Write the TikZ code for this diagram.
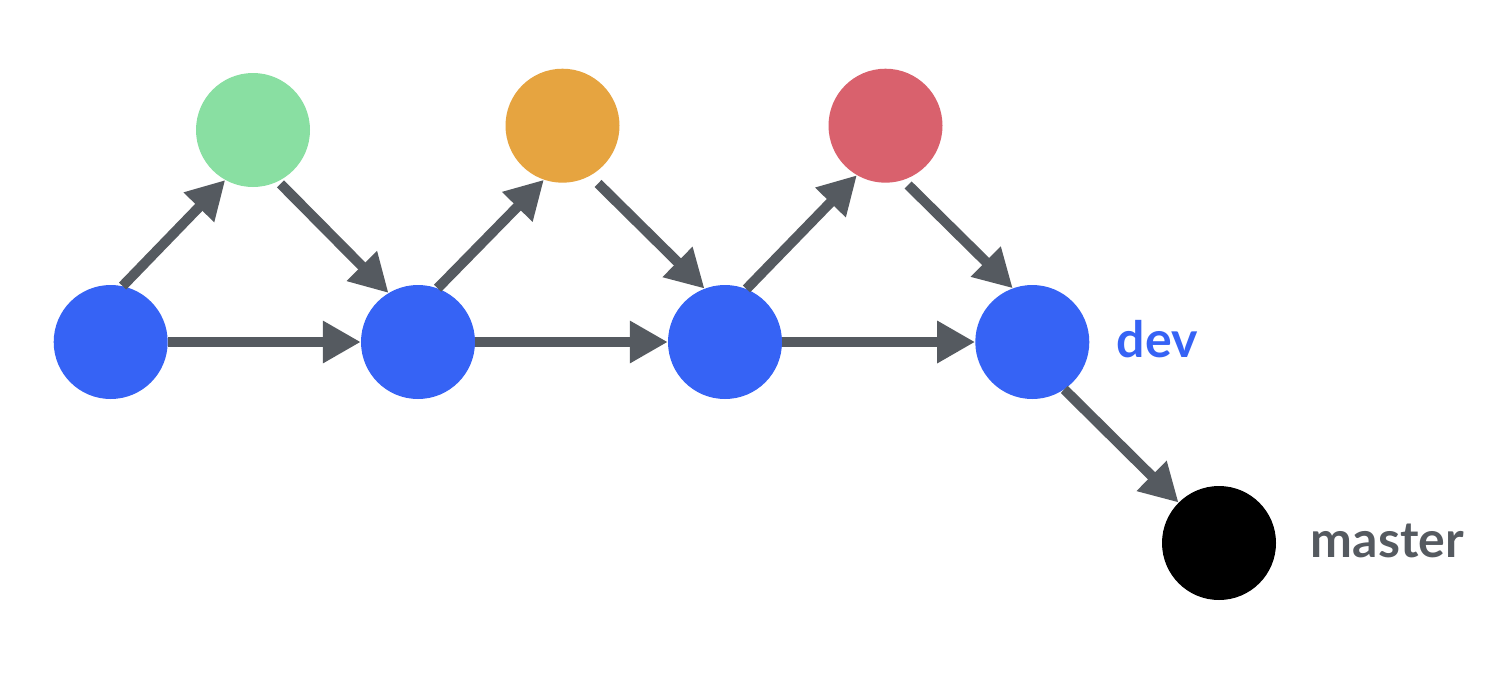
\documentclass[tikz,border=0pt]{standalone}
\usepackage{fontspec}
\setmainfont{Lato}
\usetikzlibrary{arrows.meta}
\definecolor{cblue}{HTML}{3663F5}
\definecolor{cgreen}{HTML}{89DFA2}
\definecolor{corange}{HTML}{E6A440}
\definecolor{cred}{HTML}{D9616D}
\definecolor{cgray}{HTML}{555A60}
\tikzset{
  commit/.style={circle, minimum size=114pt, inner sep=0pt, draw=none},
  arr/.style={draw=cgray, line width=10pt, -{Triangle[length=38pt,width=40pt]}},
  lbl/.style={anchor=base west, inner sep=0pt, font=\fontsize{50}{50}\selectfont\bfseries}
}
\begin{document}
\begin{tikzpicture}[x=1pt,y=-1pt]
\useasboundingbox[fill=white] (0,0) rectangle (1494,678);
\node[commit, fill=cblue] (b1) at (110.7,342) {};
\node[commit, fill=cblue] (b2) at (418,342) {};
\node[commit, fill=cblue] (b3) at (725,342) {};
\node[commit, fill=cblue] (b4) at (1032.3,342) {};
\node[commit, fill=cgreen] (g) at (253,130) {};
\node[commit, fill=corange] (o) at (562.5,125.7) {};
\node[commit, fill=cred] (r) at (885.5,125.7) {};
\node[commit, fill=black] (m) at (1219,543) {};
\node[lbl, text=cblue] (dev) at (1116.7,357.3) {dev};
\node[lbl, text=cgray] (master) at (1310.7,557.7) {master};
% horizontal
\draw[arr] (b1.east) -- (b2.west);
\draw[arr] (b2.east) -- (b3.west);
\draw[arr] (b3.east) -- (b4.west);
% diagonals
\draw[arr] (b1.78.7) -- (g.241.8);
\draw[arr, shorten <=3.5pt] (g.296.6) -- (b2.121.4);
\draw[arr] (b2.70.7) -- (o.251.7);
\draw[arr, shorten <=11pt] (o.299.4) -- (b3.111);
\draw[arr] (b3.68.6) -- (r.240.2);
\draw[arr, shorten <=7pt] (r.288.2) -- (b4.110);
\draw[arr] (b4.304.4) -- (m.135.7);
\end{tikzpicture}
\end{document}
